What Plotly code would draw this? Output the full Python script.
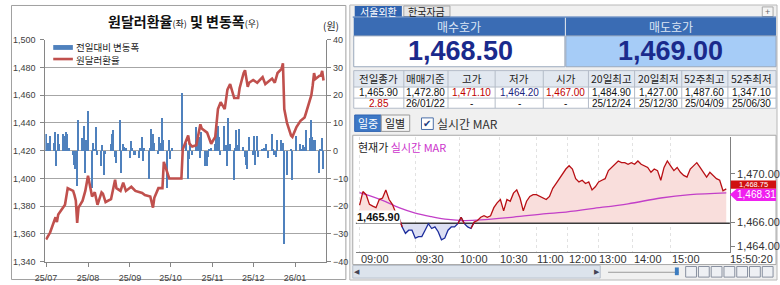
import plotly.graph_objects as go

W, H = 780, 285
def px(x): return x / W
def py(y): return 1 - y / H

KR = "Noto Sans CJK KR"
NUM = "Liberation Sans"

# ---------------- left chart data ----------------
rate_dates = ["2025-07-01","2025-07-04","2025-07-08","2025-07-09","2025-07-10","2025-07-14","2025-07-15",
    "2025-07-17","2025-07-21","2025-07-22","2025-07-23","2025-07-24","2025-07-25","2025-07-28","2025-07-30",
    "2025-08-01","2025-08-04","2025-08-06","2025-08-08","2025-08-11","2025-08-12","2025-08-14","2025-08-18",
    "2025-08-21","2025-08-22","2025-08-25","2025-08-27","2025-08-29","2025-09-02","2025-09-05","2025-09-10",
    "2025-09-12","2025-09-16","2025-09-18","2025-09-19","2025-09-22","2025-09-25","2025-09-26","2025-09-29",
    "2025-09-30","2025-10-02","2025-10-09","2025-10-10","2025-10-14","2025-10-15","2025-10-17","2025-10-20",
    "2025-10-23","2025-10-24","2025-10-28","2025-10-31","2025-11-03","2025-11-05","2025-11-07","2025-11-10",
    "2025-11-12","2025-11-14","2025-11-17","2025-11-20","2025-11-21","2025-11-24","2025-11-25","2025-11-27",
    "2025-11-28","2025-12-01","2025-12-04","2025-12-08","2025-12-10","2025-12-15","2025-12-17","2025-12-19",
    "2025-12-22","2025-12-23","2025-12-24","2025-12-26","2025-12-29","2025-12-30","2026-01-02","2026-01-05",
    "2026-01-07","2026-01-08","2026-01-09","2026-01-12","2026-01-13","2026-01-14","2026-01-15","2026-01-16",
    "2026-01-19","2026-01-20","2026-01-21","2026-01-22"]
rate_values = [1356,1361,1372,1368.5,1374,1379,1381,
    1393,1391,1388,1384,1368,1379,1384,1391,
    1402,1387,1390,1381,1390,1389,1383,1385,
    1399,1393,1391,1397,1391,1394,1391,1389.5,
    1388,1387,1379,1386,1393,1393,1412,1402,
    1400,1400,1400,1421,1431,1425,1423,1424,
    1439,1436,1433,1425,1430,1450,1455,1450,
    1464,1468,1458,1458,1465,1476,1478,1466,
    1469,1471,1469,1473,1468,1472,1469,1476,
    1479,1483,1450,1440,1431,1430,1437,1441.5,
    1443,1444,1447,1455.5,1460,1467,1476,1471.7,
    1474,1474,1477.5,1470.6]

jul_days = [1,2,3,4,7,8,9,10,11,14,15,16,17,18,21,22,23,24,25,28,29,30,31]
aug_days = [1,4,5,6,7,8,11,12,13,14,18,19,20,21,22,25,26,27,28,29]
sep_days = [1,2,3,4,5,8,9,10,11,12,15,16,17,18,19,22,23,24,25,26,29,30]
oct_days = [1,2,10,13,14,15,16,17,20,21,22,23,24,27,28,29,30,31]
nov_days = [3,4,5,6,7,10,11,12,13,14,17,18,19,20,21,24,25,26,27,28]
dec_days = [1,2,3,4,5,8,9,10,11,12,15,16,17,18,19,22,23,24,26,29,30]
jan_days = [2,5,6,7,8,9,12,13,14,15,16,19,20,21,22]

jul_chg = [6,3,3,5.5,3,7,-5.5,6,2.5,6,5.5,7,6,1,-1.5,-5,-6.5,-12.5,11,4.5,9,-8,4]
aug_chg = [14.5,-13.5,3,0.5,8.5,-1.5,-5.5,2,-8.5,-1,2.5,6,7.5,-2,-4.5,11,-8,2.5,1.5,1]
sep_chg = [-2.5,3.5,1,-1.5,-1.5,-2.5,1,5,-3.5,1,-10,1,8,6,3,-1,5,3,12,4,-13.5,4]
oct_chg = [-3,1,21,3,-10,-3,3,-1.5,8.5,4,5,-2.5,7,-5.5,-5.5,-2,0.5,1]
nov_chg = [2.5,6.5,9,5,-1.5,9,2,-5.5,12,2.5,-10.5,1,7.5,2,8,1.5,-2,-5,-6.5,5]
dec_chg = [-1.5,5.5,-5,5.5,-2,0.5,1,0.3,2.5,-2.5,6,0.5,-1.5,-2,4,4,3,-33.5,-8.5,0.5,-10.5]
jan_chg = [5.5,2.5,0.5,2,1.5,7.5,4.5,11,5,4,4,-8,0.5,4.5,-6.5]

month_ticks = ["2025-07-01","2025-08-01","2025-09-01","2025-10-01","2025-11-01","2025-12-01","2026-01-01"]
month_labels = ["25/07","25/08","25/09","25/10","25/11","25/12","26/01"]

months = [("2025-07", jul_days, jul_chg), ("2025-08", aug_days, aug_chg), ("2025-09", sep_days, sep_chg),
          ("2025-10", oct_days, oct_chg), ("2025-11", nov_days, nov_chg), ("2025-12", dec_days, dec_chg),
          ("2026-01", jan_days, jan_chg)]
bar_x, bar_y = [], []
for ym, days, vals in months:
    for d, v in zip(days, vals):
        bar_x.append(f"{ym}-{d:02d}")
        bar_y.append(v)

# ---------------- right panel data ----------------
bid_price = "1,468.50"
ask_price = "1,469.00"
table_cols = ["전일종가","매매기준","고가","저가","시가","20일최고","20일최저","52주최고","52주최저"]
table_row1 = ["1,465.90","1,472.80","1,471.10","1,464.20","1,467.00","1,484.90","1,427.00","1,487.60","1,347.10"]
table_row2 = ["2.85","26/01/22","-","-","-","25/12/24","25/12/30","25/04/09","25/06/30"]
row1_colors = ["#111","#111","#C00000","#1A237E","#C00000","#111","#111","#111","#111"]
row2_colors = ["#C00000","#111","#111","#111","#111","#111","#111","#111","#111"]

prev_close = 1465.90
intraday_price = [1467.4,1468.53,1468.27,1467.47,1467.33,1467.2,1467.87,1468.0,1468.67,1467.87,
    1467.47,1466.8,1466.4,1465.6,1465.07,1465.33,1465.33,1464.67,1464.8,1464.8,
    1465.33,1465.87,1465.47,1465.6,1465.2,1464.53,1464.67,1465.33,1465.6,1465.6,
    1465.87,1466.4,1465.87,1465.6,1465.47,1466.0,1466.13,1466.4,1466.53,1466.4,
    1466.53,1467.2,1467.6,1467.87,1466.93,1467.87,1467.73,1468.4,1468.67,1468.0,
    1466.93,1467.73,1468.13,1468.27,1468.27,1468.13,1468.0,1467.87,1468.13,1468.8,
    1469.2,1469.6,1470.0,
    1470.4,1470.67,1470.4,1469.6,1469.33,1469.47,1469.2,1469.33,1468.67,1468.93,
    1469.33,1469.47,1469.6,1470.27,1470.53,1470.8,1471.07,1470.93,1470.93,1470.8,
    1470.93,1470.8,1471.07,1470.8,1470.67,1470.53,1470.13,1470.4,1470.27,1469.47,
    1470.53,1471.07,1470.67,1470.27,1470.53,1470.13,1469.87,1469.73,1470.4,1470.67,
    1470.93,1470.53,1470.13,1469.73,1470.13,1469.87,1469.6,1469.47,1468.6,1468.75]
mar_idx = [0,3,7,12,17,22,27,32,37,47,57,62,71,82,92,101,112]
mar_val = [1468.45,1468.2,1467.8,1467.2,1466.75,1466.45,1466.22,1466.13,1466.18,1466.42,
           1466.7,1466.8,1467.12,1467.52,1468.0,1468.27,1468.42]
time_labels = ["09:00","09:30","10:00","10:30","11:00","12:00","13:00","14:00","15:00"]
time_idx = [0,17,30.5,42.6,54,63.6,72.9,83.4,95.1]
last_time = "15:50:20"
last_price_tag = "1,468.75"
mar_tag = "1,468.31"

shapes, ann = [], []

def rect(x0, y0, x1, y1, fill, line=None, lw=1, layer="below"):
    shapes.append(dict(type="rect", xref="paper", yref="paper", x0=px(x0), x1=px(x1),
                       y0=py(y1), y1=py(y0), fillcolor=fill, layer=layer,
                       line=dict(color=line if line else "rgba(0,0,0,0)", width=lw if line else 0)))

def hline(x0, x1, y, color, w=1, layer="below"):
    shapes.append(dict(type="line", xref="paper", yref="paper", x0=px(x0), x1=px(x1), y0=py(y), y1=py(y),
                       line=dict(color=color, width=w), layer=layer))

def vline(x, y0, y1, color, w=1, layer="below"):
    shapes.append(dict(type="line", xref="paper", yref="paper", x0=px(x), x1=px(x), y0=py(y0), y1=py(y1),
                       line=dict(color=color, width=w), layer=layer))

def txt(x, y, s, size=11, color="#000", xa="center", fam=KR, ya="middle", bg=None):
    d = dict(x=px(x), y=py(y), xref="paper", yref="paper", text=s, showarrow=False, borderpad=0,
             xanchor=xa, yanchor=ya, font=dict(size=size, color=color, family=fam))
    if bg:
        d["bgcolor"] = bg
    ann.append(d)

fig = go.Figure()

# ---- left chart ----
fig.add_trace(go.Bar(x=bar_x, y=bar_y, xaxis="x", yaxis="y", marker=dict(color="#4F81BD", line=dict(width=0)),
                     width=0.8 * 86400000, showlegend=False))
fig.add_trace(go.Scatter(x=rate_dates, y=rate_values, xaxis="x", yaxis="y2", mode="lines",
                         line=dict(color="#C0504D", width=2.6), showlegend=False))

rect(0.5, 0.5, 341, 284.5, "white", "#A0A0A0", 1)
txt(176, 17, "<b>원달러환율</b><span style='font-size:9px'>(좌)</span><b> 및 변동폭</b><span style='font-size:9px'>(우)</span>",
    size=14, color="#111")
txt(326, 21, "(원)", size=10, color="#222")
rect(43, 41.5, 63, 46.5, "#4F81BD", layer="above")
txt(65, 44, "전일대비 변동폭", size=9.5, color="#222", xa="left")
hline(43, 63, 56, "#C0504D", 2.6, layer="above")
txt(65, 56.5, "원달러환율", size=9.5, color="#222", xa="left")

# ---- right panel background ----
rect(345, 0, 780, 285, "#F0F0F0", "#B8B8B8", 1)
# tabs
rect(350, 1, 398, 12, "#2F63B0")
txt(374, 7, "서울외환", size=10, color="white")
rect(400, 1, 447, 12, "#E6E6E6", "#A8A8A8", 1)
txt(423.5, 7, "한국자금", size=10, color="#222")
rect(765, 2, 776, 12, "#F4F4F4", "#A8A8A8", 1)
txt(770.5, 7, "+", size=9, color="#666", fam=NUM)
hline(348, 779, 12.5, "#2F63B0", 1)
# bid / ask headers
rect(349, 13, 564, 32, "#3A6CB4")
rect(565, 13, 779, 32, "#3A6CB4")
txt(456, 22.5, "매수호가", size=12, color="#DCE6F5")
txt(672, 22.5, "매도호가", size=12, color="#DCE6F5")
rect(349, 32, 564, 64, "white", "#9AA8BC", 1)
rect(565, 32, 779, 64, "#A6CCF7", "#9AA8BC", 1)
txt(458, 48, "<b>" + bid_price + "</b>", size=27, color="#1A2A8C", fam=NUM)
txt(672, 48, "<b>" + ask_price + "</b>", size=27, color="#1A2A8C", fam=NUM)
# table
cols = [349, 400, 445, 493, 542, 588, 635, 683, 730, 779]
rect(349, 68, 779, 85, "#E2E8F0")
rect(349, 85, 779, 107, "white")
for i in range(9):
    cx = (cols[i] + cols[i + 1]) / 2
    txt(cx, 76.5, table_cols[i], size=10.5, color="#222")
    txt(cx, 90.8, table_row1[i], size=10, color=row1_colors[i], fam=NUM)
    txt(cx, 102, table_row2[i], size=10, color=row2_colors[i], fam=NUM)
for c in cols:
    vline(c, 68, 107, "#B4BCC8", 1)
for yy in [68, 85, 96.5, 107]:
    hline(349, 779, yy, "#B4BCC8", 1)
# buttons
rect(350, 114, 377, 131, "#3D78C6", "#2F63B0", 1)
txt(363.5, 122.5, "일중", size=11, color="white")
rect(377, 114, 406, 131, "#F4F4F4", "#9A9A9A", 1)
txt(391.5, 122.5, "일별", size=11, color="#222")
rect(418, 117, 430, 129, "white", "#4A6FA8", 1)
txt(424, 123, "✔", size=10, color="#1E3C80", fam="DejaVu Sans")
txt(433, 122.5, "실시간 MAR", size=12, color="#333", xa="left")
# chart box
rect(348, 135, 779, 269, "white", "#A8A8A8", 1)
txt(352, 147, "현재가 <span style='color:#CC33CC'>실시간 MAR</span>", size=11, color="#222", xa="left")
# scrollbar / toolbar
rect(348, 270, 600, 283, "#DCE3EC", "#B8C0CC", 1)
txt(352, 276.5, "◀", size=7, color="#445", fam="DejaVu Sans")
txt(597, 276.5, "▶", size=7, color="#445", fam="DejaVu Sans")
hline(608, 680, 277, "#9A9A9A", 1)
rect(676, 272, 680, 280, "#3C7CC0")
for k in range(7):
    x0 = 687 + k * 13
    rect(x0, 271, x0 + 11, 282, "#EEF0F4", "#8890A0", 1)

# ---- intraday traces ----
n = len(intraday_price)
idx = list(range(n))
up = [max(v, prev_close) for v in intraday_price]
dn = [min(v, prev_close) for v in intraday_price]
basey = [prev_close] * n
fig.add_trace(go.Scatter(x=idx, y=basey, xaxis="x2", yaxis="y3", mode="lines", line=dict(width=0),
                         showlegend=False, hoverinfo="skip"))
fig.add_trace(go.Scatter(x=idx, y=up, xaxis="x2", yaxis="y3", mode="lines", line=dict(width=0),
                         fill="tonexty", fillcolor="#F9DEDC", showlegend=False, hoverinfo="skip"))
fig.add_trace(go.Scatter(x=idx, y=basey, xaxis="x2", yaxis="y3", mode="lines", line=dict(width=0),
                         showlegend=False, hoverinfo="skip"))
fig.add_trace(go.Scatter(x=idx, y=dn, xaxis="x2", yaxis="y3", mode="lines", line=dict(width=0),
                         fill="tonexty", fillcolor="#DCDFF3", showlegend=False, hoverinfo="skip"))
fig.add_trace(go.Scatter(x=[-1.2, 113.2], y=[prev_close, prev_close], xaxis="x2", yaxis="y3", mode="lines",
                         line=dict(color="#3A3A3A", width=1.4), showlegend=False))
fig.add_trace(go.Scatter(x=mar_idx, y=mar_val, xaxis="x2", yaxis="y3", mode="lines",
                         line=dict(color="#C23FC8", width=1.3, shape="spline"), showlegend=False))
red_y, blue_y = [], []
for i, v in enumerate(intraday_price):
    nb = [intraday_price[j] for j in (i - 1, i, i + 1) if 0 <= j < n]
    red_y.append(v if any(u >= prev_close for u in nb) else None)
    blue_y.append(v if any(u < prev_close for u in nb) else None)
fig.add_trace(go.Scatter(x=idx, y=blue_y, xaxis="x2", yaxis="y3", mode="lines",
                         line=dict(color="#1C2C9C", width=1.3), showlegend=False, connectgaps=False))
fig.add_trace(go.Scatter(x=idx, y=red_y, xaxis="x2", yaxis="y3", mode="lines",
                         line=dict(color="#B80F14", width=1.3), showlegend=False, connectgaps=False))

for lab, ti in zip(time_labels, time_idx):
    ann.append(dict(x=ti, y=py(263), xref="x2", yref="paper", text=lab, showarrow=False, xanchor="left",
                    yanchor="middle", borderpad=0, font=dict(size=11, color="#333", family=NUM)))
txt(731, 263, last_time, size=11, color="#333", xa="left", fam=NUM)
txt(351, 220, "<b>1,465.90</b>", size=11, color="#111", xa="left", fam=NUM, bg="white")
# price tags
rect(733, 182, 779, 190.5, "#D01010", layer="above")
txt(756, 186, last_price_tag, size=7.5, color="white", fam=NUM)
shapes.append(dict(type="path", xref="paper", yref="paper", layer="above",
                   path=f"M {px(732)},{py(196.5)} L {px(739)},{py(190.5)} L {px(779)},{py(190.5)} L {px(779)},{py(203)} L {px(739)},{py(203)} Z",
                   fillcolor="#F020F0", line=dict(width=0)))
txt(759, 196.8, mar_tag, size=10, color="white", fam=NUM)

fig.update_layout(
    width=W, height=H, margin=dict(l=0, r=0, t=0, b=0),
    paper_bgcolor="white", plot_bgcolor="rgba(0,0,0,0)",
    bargap=0, barmode="overlay",
    xaxis=dict(type="date", domain=[px(35), px(321)], anchor="y", range=["2025-06-30 12:00", "2026-01-24"],
               tickvals=month_ticks, ticktext=month_labels, ticks="outside", ticklen=4, tickcolor="#868686",
               ticklabelstandoff=4,
               showline=True, linecolor="#868686", showgrid=False, tickfont=dict(size=9, color="#404040", family=NUM)),
    yaxis=dict(domain=[py(266), py(36)], anchor="x", side="right", range=[-40, 40], dtick=10,
               showgrid=True, gridcolor="#A6A6A6", zeroline=False, showline=True, linecolor="#868686",
               ticks="outside", ticklen=4, tickcolor="#868686", tickfont=dict(size=9, color="#404040", family=NUM)),
    yaxis2=dict(overlaying="y", side="left", anchor="x", range=[1340, 1500], dtick=20, tickformat=",",
                showgrid=False, zeroline=False, showline=True, linecolor="#868686", ticklabelstandoff=3,
                ticks="outside", ticklen=4, tickcolor="#868686", tickfont=dict(size=9, color="#404040", family=NUM)),
    xaxis2=dict(domain=[px(351), px(732)], anchor="y3", range=[-1.2, 113.1], tickvals=time_idx,
                showticklabels=False, showgrid=True, gridcolor="#E2E2E2", griddash="dot", zeroline=False,
                showline=True, linecolor="#808080"),
    yaxis3=dict(domain=[py(256), py(137)], anchor="x2", side="right", range=[1463.52, 1473.04],
                tickvals=[1464, 1466, 1470], ticktext=["1,464.00", "1,466.00", "1,470.00"],
                ticks="outside", ticklen=4, tickcolor="#808080", showgrid=False, zeroline=False,
                showline=True, linecolor="#808080", tickfont=dict(size=11, color="#333", family=NUM)),
    shapes=shapes, annotations=ann,
)
fig.write_html("out.html")
